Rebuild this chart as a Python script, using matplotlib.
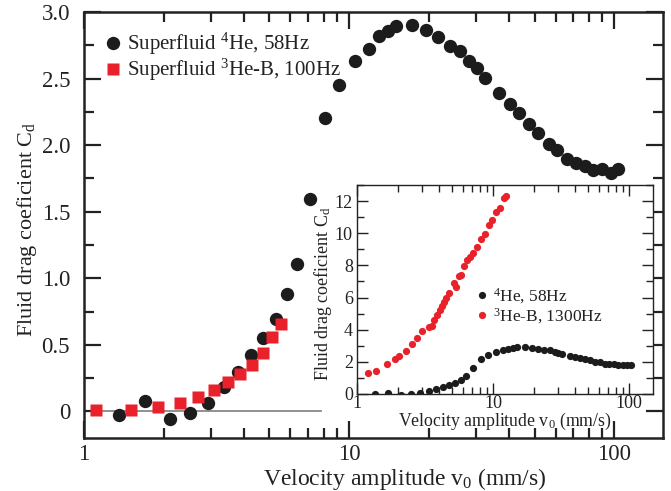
import matplotlib
matplotlib.use("Agg")
import matplotlib.pyplot as plt
from matplotlib.ticker import FixedLocator, NullFormatter, MultipleLocator

plt.rcParams['font.family'] = ['Liberation Serif', 'DejaVu Serif']
plt.rcParams['mathtext.fontset'] = 'custom'
plt.rcParams['mathtext.rm'] = 'Liberation Serif'
plt.rcParams['mathtext.it'] = 'Liberation Serif:italic'

# superfluid 4He, 58 Hz (main plot and inset)
he4_v = [1.355, 1.70, 2.11, 2.51, 2.93, 3.38, 3.80, 4.26, 4.75, 5.30, 5.82, 6.38,
         7.13, 8.12, 9.12, 10.53, 11.83, 12.9, 14.0, 15.0, 17.25, 19.5, 21.6,
         23.9, 26.1, 28.4, 30.3, 32.4, 36.6, 40.3, 43.8, 47.5, 51.5, 56.5, 60.8,
         66.3, 71.7, 77.3, 83.1, 89.8, 96.6, 103.2]
he4_cd = [-0.03, 0.077, -0.055, -0.01, 0.06, 0.18, 0.295, 0.42, 0.55, 0.69, 0.885, 1.11,
          1.594, 2.205, 2.45, 2.634, 2.72, 2.82, 2.857, 2.895, 2.90, 2.865, 2.81,
          2.744, 2.707, 2.63, 2.577, 2.506, 2.39, 2.306, 2.238, 2.155, 2.093, 2.008, 1.962,
          1.892, 1.862, 1.844, 1.812, 1.817, 1.787, 1.817]

# superfluid 3He-B, 100 Hz
he3_v = [1.107, 1.504, 1.897, 2.30, 2.70, 3.10, 3.50, 3.88, 4.29, 4.71, 5.11, 5.52]
he3_cd = [0.0075, 0.0075, 0.032, 0.062, 0.107, 0.163, 0.22, 0.283, 0.351, 0.438, 0.559, 0.659]

# 3He-B, 1300 Hz (inset)
he3b_v = [1.21, 1.37, 1.67, 1.92, 2.05, 2.28, 2.52, 2.78, 3.02, 3.38, 3.54, 3.68, 3.85,
          4.08, 4.24, 4.38, 4.49, 4.77, 5.19, 5.39, 5.62, 5.87, 6.12, 6.47, 6.77, 7.09,
          7.67, 8.16, 8.73, 9.35, 9.88, 10.5, 11.3, 12.0, 12.4]
he3b_cd = [1.32, 1.45, 1.84, 2.17, 2.38, 2.69, 3.09, 3.46, 3.93, 4.18, 4.24, 4.60, 4.91,
           5.22, 5.47, 5.73, 5.94, 6.25, 6.91, 6.66, 7.35, 7.39, 7.95, 8.32, 8.53, 8.74,
           9.15, 9.61, 9.98, 10.5, 10.85, 11.32, 11.57, 12.16, 12.30]

black = '#1c1c1c'
red = '#e8212b'
minor_x = [m * d for d in (1, 10, 100) for m in range(2, 10)]

fig = plt.figure(figsize=(6.71, 4.91), dpi=100)
ax = fig.add_axes([0.1252, 0.108, 0.8636, 0.8676])

ax.plot([1, 7.8], [0, 0], color='#888888', lw=1.3, zorder=1)
ax.plot(he4_v, he4_cd, 'o', color=black, ms=9.6, mec='none', label='Superfluid $^4$He, 58Hz', zorder=3)
ax.plot(he3_v, he3_cd, 's', color=red, ms=8.6, mec='none', label='Superfluid $^3$He-B, 100Hz', zorder=4)

ax.set_xscale('log')
ax.set_xlim(1, 153)
ax.set_ylim(-0.2, 3.0)
ax.xaxis.set_major_locator(FixedLocator([1, 10, 100]))
ax.xaxis.set_minor_locator(FixedLocator(minor_x))
ax.xaxis.set_minor_formatter(NullFormatter())
ax.set_xticklabels(['1', '10', '100'])
ax.yaxis.set_major_locator(FixedLocator([0, 0.5, 1.0, 1.5, 2.0, 2.5, 3.0]))
ax.set_yticklabels(['0', '0.5', '1.0', '1.5', '2.0', '2.5', '3.0'])
ax.yaxis.set_minor_locator(MultipleLocator(0.25))
ax.tick_params(which='both', direction='in', top=True, right=True, width=1.6, labelsize=16.5, colors='#222222')
ax.tick_params(which='major', length=12)
ax.tick_params(which='minor', length=7)
ax.tick_params(axis='x', which='major', pad=4.5)
ax.tick_params(axis='y', which='major', pad=10)
for s in ax.spines.values():
    s.set_linewidth(1.8)
    s.set_color('#222222')
ax.set_xlabel('Velocity amplitude v$_0$ (mm/s)', fontsize=17, color='#222222')
ax.xaxis.set_label_coords(0.554, -0.066)
ax.set_ylabel('Fluid drag coeficient C$_\\mathrm{d}$', fontsize=16, color='#222222')
ax.yaxis.set_label_coords(-0.077, 0.49)
ax.legend(loc='upper left', bbox_to_anchor=(0.01, 0.99), frameon=False, fontsize=15,
          handlelength=0.8, handletextpad=0.3, borderaxespad=0.3, labelspacing=0.0,
          labelcolor='#222222')

# inset
ins = fig.add_axes([0.532, 0.1976, 0.441, 0.4257])
ins.plot(he4_v, he4_cd, 'o', color=black, ms=5.2, mec='none', label='$^4$He, 58Hz')
ins.plot(he3b_v, he3b_cd, 'o', color=red, ms=5.2, mec='none', label='$^3$He-B, 1300Hz')
ins.set_xscale('log')
ins.set_xlim(1, 150)
ins.set_ylim(0, 13)
ins.xaxis.set_major_locator(FixedLocator([1, 10, 100]))
ins.xaxis.set_minor_locator(FixedLocator(minor_x))
ins.xaxis.set_minor_formatter(NullFormatter())
ins.set_xticklabels(['1', '10', '100'])
ins.yaxis.set_major_locator(MultipleLocator(2))
ins.yaxis.set_minor_locator(MultipleLocator(1))
ins.tick_params(which='both', direction='in', top=True, right=True, width=1.0, labelsize=13, colors='#222222')
ins.tick_params(which='major', length=8, pad=3)
ins.tick_params(which='minor', length=5)
ins.tick_params(axis='x', which='major', pad=0.5)
for s in ins.spines.values():
    s.set_linewidth(1.0)
    s.set_color('#222222')
ins.set_xlabel('Velocity amplitude v$_0$ (mm/s)', fontsize=12.8, color='#222222', labelpad=-0.5)
ins.set_ylabel('Fluid drag coeficient C$_\\mathrm{d}$', fontsize=13, color='#222222', labelpad=-1)
ins.yaxis.set_label_coords(-0.078, 0.48)
ins.legend(loc='upper left', bbox_to_anchor=(0.373, 0.565), frameon=False, fontsize=12.5,
           handlelength=0.5, handletextpad=0.4, borderaxespad=0.2, labelspacing=0.0,
           labelcolor='#222222')

fig.savefig('out.png', dpi=100)
